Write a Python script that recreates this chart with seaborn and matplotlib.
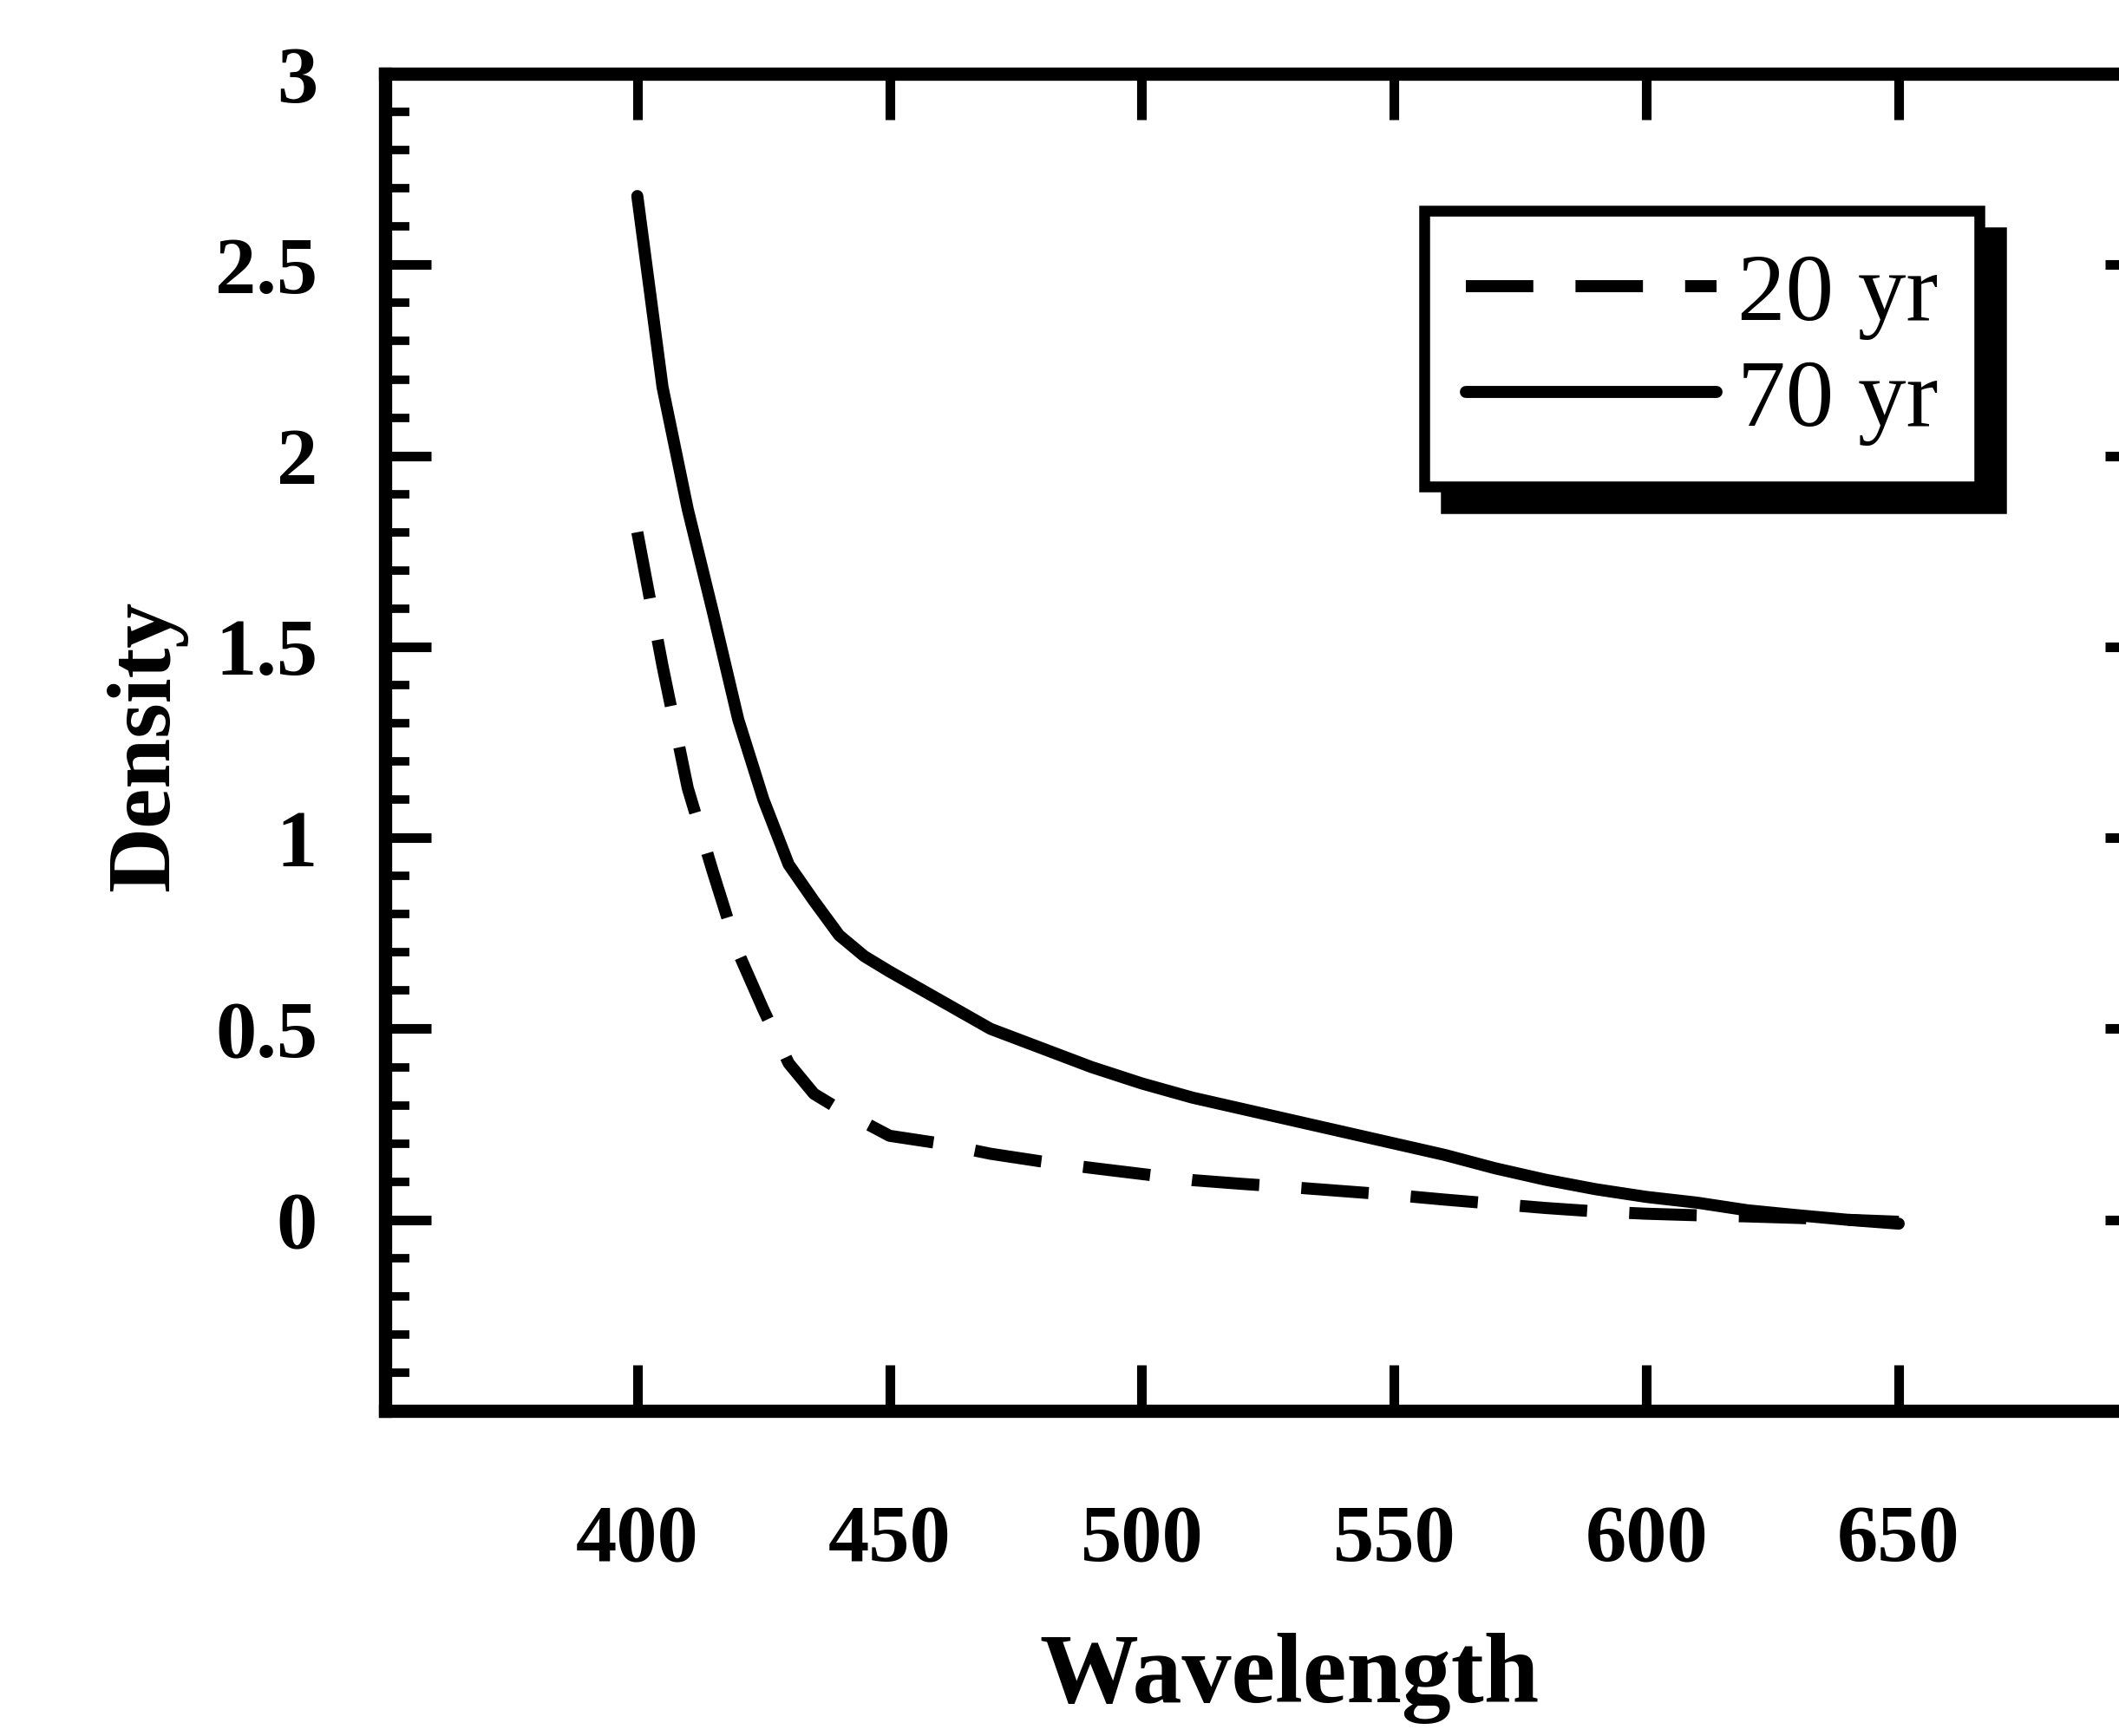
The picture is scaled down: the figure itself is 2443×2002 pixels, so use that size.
import numpy as np
import pandas as pd
import matplotlib
matplotlib.use("Agg")
import matplotlib.pyplot as plt
import seaborn as sns
from matplotlib.ticker import MultipleLocator

# ---------------- data ----------------
wavelength = [400, 405, 410, 415, 420, 425, 430, 435, 440, 445, 450,
              460, 470, 480, 490, 500, 510, 520, 530, 540, 550,
              560, 570, 580, 590, 600, 610, 620, 630, 640, 650]
density_20yr = [1.80, 1.45, 1.13, 0.91, 0.70, 0.55, 0.41, 0.33, 0.29, 0.255, 0.22,
                0.20, 0.173, 0.153, 0.136, 0.12, 0.104, 0.094, 0.085, 0.075, 0.065,
                0.053, 0.042, 0.031, 0.022, 0.016, 0.012, 0.009, 0.005, 0.0, -0.005]
density_70yr = [2.68, 2.18, 1.86, 1.59, 1.31, 1.10, 0.93, 0.835, 0.745, 0.69, 0.65,
                0.575, 0.50, 0.45, 0.40, 0.357, 0.32, 0.29, 0.26, 0.23, 0.20,
                0.17, 0.135, 0.105, 0.08, 0.06, 0.045, 0.025, 0.012, 0.0, -0.01]
series_labels = ["20 yr", "70 yr"]
x_ticks = [400, 450, 500, 550, 600, 650]
x_tick_labels = ["400", "450", "500", "550", "600", "650"]
y_ticks = [0, 0.5, 1, 1.5, 2, 2.5, 3]
y_tick_labels = ["0", "0.5", "1", "1.5", "2", "2.5", "3"]
x_label = "Wavelength"
y_label = "Density"

df = pd.concat([
    pd.DataFrame({"wavelength": wavelength, "density": density_20yr, "age": series_labels[0]}),
    pd.DataFrame({"wavelength": wavelength, "density": density_70yr, "age": series_labels[1]}),
], ignore_index=True)

# ---------------- style ----------------
sns.set_style("ticks")
plt.rcParams["font.family"] = ["Liberation Serif", "DejaVu Serif"]
for key in ["axes.edgecolor", "text.color", "axes.labelcolor", "xtick.color", "ytick.color"]:
    plt.rcParams[key] = "black"

fig = plt.figure(figsize=(24.43, 20.02), dpi=100)
ax = fig.add_axes([0.1817, 0.1873, 0.8334, 0.7702])

sns.lineplot(data=df, x="wavelength", y="density", hue="age", style="age",
             hue_order=series_labels, style_order=series_labels,
             palette=["black", "black"],
             dashes={series_labels[0]: (5.6, 3.5), series_labels[1]: ""},
             linewidth=10, estimator=None, legend=False, ax=ax)

ax.set_xlim(350, 700)
ax.set_ylim(-0.5, 3)
ax.set_xticks(x_ticks)
ax.set_xticklabels(x_tick_labels)
ax.set_yticks(y_ticks)
ax.set_yticklabels(y_tick_labels)
ax.yaxis.set_minor_locator(MultipleLocator(0.1))

ax.tick_params(axis="both", which="major", direction="in", length=38, width=8,
               top=True, right=True, bottom=True, left=True,
               labeltop=False, labelright=False, labelsize=68, color="black",
               labelcolor="black")
ax.tick_params(axis="y", which="minor", direction="in", length=20, width=7,
               left=True, right=True, color="black")
ax.tick_params(axis="x", which="minor", bottom=False, top=False)
ax.tick_params(axis="x", which="major", pad=78)
ax.tick_params(axis="y", which="major", pad=56)
for lbl in ax.get_xticklabels() + ax.get_yticklabels():
    lbl.set_fontweight("bold")

for s in ax.spines.values():
    s.set_linewidth(11)
    s.set_color("black")

ax.set_xlabel(x_label, fontsize=82, fontweight="bold", color="black")
ax.xaxis.set_label_coords(0.512, -0.166)
ax.set_ylabel(y_label, fontsize=75, fontweight="bold", color="black")
ax.yaxis.set_label_coords(-0.112, 0.497)

leg = ax.legend(ax.lines[:2], series_labels, loc="upper left",
                bbox_to_anchor=(0.5884, 0.8975), borderaxespad=0,
                frameon=True, fancybox=False, framealpha=1,
                edgecolor="black", facecolor="white",
                shadow={"ox": 18, "oy": -18, "facecolor": "black",
                        "edgecolor": "black", "alpha": 1},
                handlelength=2.6, handletextpad=0.22, borderpad=0.43,
                labelspacing=0.19,
                prop={"family": "Liberation Serif", "size": 80, "weight": "normal"})
leg.get_frame().set_linewidth(9)
for t in leg.get_texts():
    t.set_color("black")

fig.savefig("out.png", dpi=100)
